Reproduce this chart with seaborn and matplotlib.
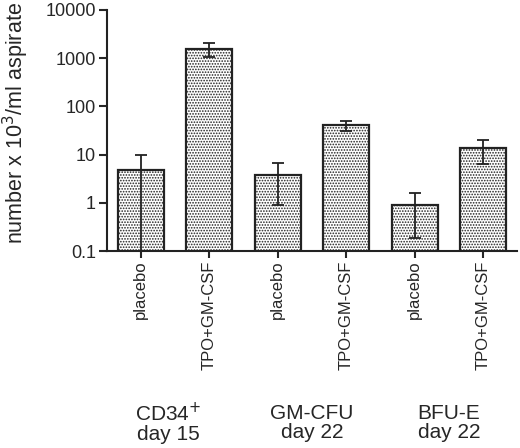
import matplotlib
matplotlib.use("Agg")
import matplotlib.pyplot as plt
import seaborn as sns
import numpy as np
import pandas as pd

# ---- data ----
bar_ids = ["CD34 placebo", "CD34 TPO", "GMCFU placebo", "GMCFU TPO", "BFUE placebo", "BFUE TPO"]
tick_labels = ["placebo", "TPO+GM-CSF", "placebo", "TPO+GM-CSF", "placebo", "TPO+GM-CSF"]
means = [4.8, 1570, 3.7, 41, 0.88, 13.9]
err_low = [0.01, 1050, 0.91, 31, 0.19, 6.3]     # lower end of error bar
err_high = [10, 2100, 6.6, 50, 1.58, 20]       # upper end of error bar
group_labels = ["CD34$^{+}$\nday 15", "GM-CFU\nday 22", "BFU-E\nday 22"]
y_ticks = [0.1, 1, 10, 100, 1000, 10000]
y_tick_labels = ["0.1", "1", "10", "100", "1000", "10000"]

sns.set_style("ticks")
plt.rcParams["font.family"] = ["Liberation Sans", "DejaVu Sans"]
plt.rcParams["hatch.color"] = "#333333"
plt.rcParams["hatch.linewidth"] = 0.8

df = pd.DataFrame({"bar": bar_ids, "value": means})

fig = plt.figure(figsize=(5.2, 4.48), dpi=100)
ax = fig.add_axes([0.2058, 0.4397, 0.7882, 0.538])

sns.barplot(data=df, x="bar", y="value", order=bar_ids, color="white",
            width=0.67, edgecolor="#222222", linewidth=1.6, errorbar=None,
            ax=ax, zorder=2)
ax.set_yscale("log")
for p in ax.patches:
    p.set_hatch("......")
    p.set_facecolor("white")

xpos = np.arange(len(bar_ids))
lower = np.array(means) - np.array(err_low)
upper = np.array(err_high) - np.array(means)
ax.errorbar(xpos, means, yerr=[lower, upper], fmt="none", ecolor="#222222",
            elinewidth=1.3, capsize=4.2, capthick=1.3, zorder=3)

ax.set_ylim(0.1, 10000)
ax.set_xlim(-0.49, 5.49)
ax.set_yticks(y_ticks)
ax.set_yticklabels(y_tick_labels)
ax.minorticks_off()
ax.yaxis.set_minor_locator(matplotlib.ticker.NullLocator())
ax.set_xticks(xpos)
ax.set_xticklabels(tick_labels, rotation=90, fontsize=12)
ax.tick_params(axis="y", labelsize=13, length=6, width=1.5, pad=2)
ax.tick_params(axis="x", length=5, width=1.5, pad=2)
ax.set_xlabel("")
ax.set_ylabel("number x 10$^{3}$/ml aspirate", fontsize=15.5)
ax.yaxis.set_label_coords(-0.185, 0.53)
for s in ["left", "bottom"]:
    ax.spines[s].set_linewidth(1.5)
    ax.spines[s].set_color("#222222")
sns.despine(ax=ax)

for i, g in enumerate(group_labels):
    xc = 2 * i + 0.5
    if i == 0:
        xc -= 0.1
    ax.text(xc, -0.714, g, transform=ax.get_xaxis_transform(), ha="center",
            va="center", fontsize=15, linespacing=1.0)

fig.savefig("out.png", dpi=100)
